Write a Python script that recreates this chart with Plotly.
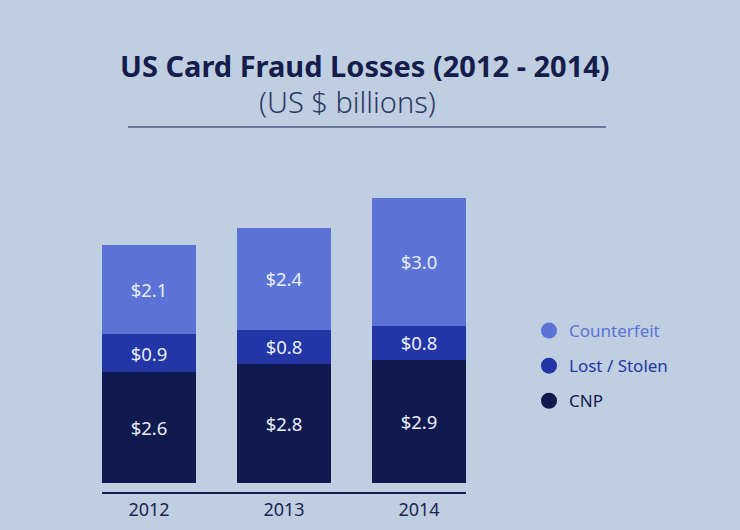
import plotly.graph_objects as go

# data as labelled on the chart (US $ billions)
years = ["2012", "2013", "2014"]
cnp = [2.6, 2.8, 2.9]
lost_stolen = [0.9, 0.8, 0.8]
counterfeit = [2.1, 2.4, 3.0]

series = [
    ("CNP", cnp, "#111a4f"),
    ("Lost / Stolen", lost_stolen, "#2236a6"),
    ("Counterfeit", counterfeit, "#5c73d6"),
]

bg = "#c0cee1"
font_name = "Noto Sans"

fig = go.Figure()
for name, vals, col in series:
    fig.add_trace(go.Bar(
        x=[0, 1, 2], y=vals, name=name,
        marker=dict(color=col, line=dict(width=0)),
        width=0.696,
        text=["$%.1f" % v for v in vals],
        textposition="inside", insidetextanchor="middle",
        textfont=dict(color="#e9edf8", size=18.5, family=font_name),
        showlegend=False, hoverinfo="skip",
    ))

# legend entries with round markers, top to bottom
for name, vals, col in reversed(series):
    fig.add_trace(go.Scatter(
        x=[None], y=[None], mode="markers", name=f'<span style="color:{col}">{name}</span>',
        marker=dict(color=col, size=16, symbol="circle"),
        legendgroup=name, showlegend=True,
    ))

fig.update_layout(
    width=740, height=530,
    paper_bgcolor=bg, plot_bgcolor=bg,
    margin=dict(l=0, r=0, t=0, b=0),
    barmode="stack",
    uniformtext=dict(minsize=18, mode="show"),
    font=dict(family=font_name, color="#1a2452"),
    xaxis=dict(
        domain=[102 / 740, 466 / 740], range=[-0.348, 2.348],
        tickvals=[0, 1, 2], ticktext=years,
        tickfont=dict(size=18, color="#1a2452"),
        showgrid=False, zeroline=False,
        showline=True, linecolor="#17204d", linewidth=2,
        ticks="", fixedrange=True,
    ),
    yaxis=dict(
        domain=[1 - 492 / 530, 1 - 140 / 530], range=[-0.212, 8.07],
        visible=False, fixedrange=True,
    ),
    legend=dict(
        x=529 / 740, y=1 - 313 / 530, xanchor="left", yanchor="top",
        font=dict(size=17), bgcolor="rgba(0,0,0,0)",
        tracegroupgap=10, itemclick=False, itemdoubleclick=False,
    ),
    annotations=[
        dict(text="<b>US Card Fraud Losses (2012 - 2014)</b>", x=365 / 740, y=1 - 66 / 530,
             xref="paper", yref="paper", showarrow=False, yanchor="middle",
             font=dict(size=29, color="#141d4c", family=font_name)),
        dict(text="(US $ billions)", x=347 / 740, y=1 - 101 / 530,
             xref="paper", yref="paper", showarrow=False, yanchor="middle",
             font=dict(size=29, color="#2e3965", family=font_name, weight=300)),
    ],
    shapes=[
        dict(type="line", xref="paper", yref="paper",
             x0=128 / 740, x1=606 / 740, y0=1 - 127 / 530, y1=1 - 127 / 530,
             line=dict(color="#4b5a88", width=1.5)),
    ],
)

fig.write_html("out.html", config={"displayModeBar": False},
               post_script="document.body.style.margin='0';")
